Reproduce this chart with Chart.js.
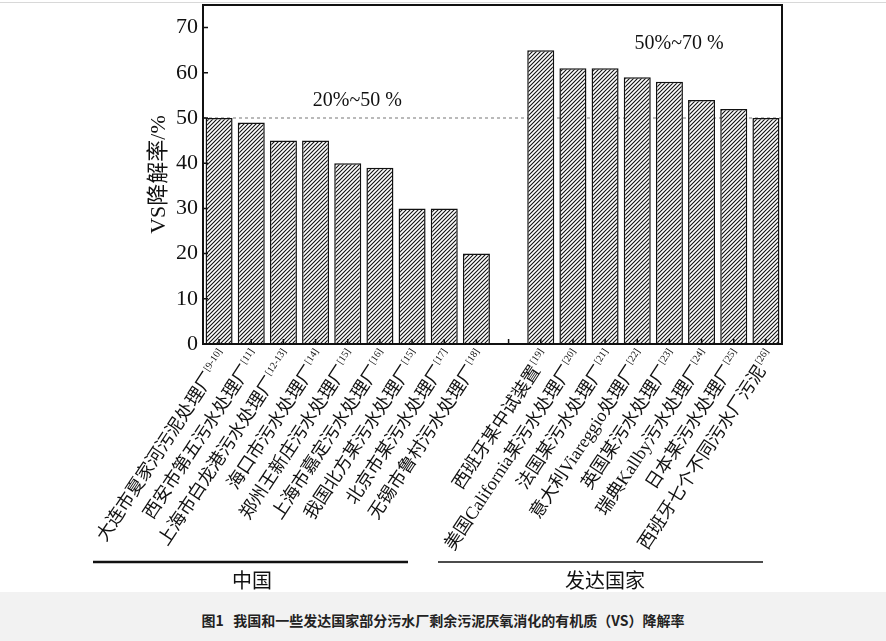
<!DOCTYPE html>
<html>
<head>
<meta charset="utf-8">
<script src="https://cdn.jsdelivr.net/npm/chart.js@4"></script>
<style>
  body { margin: 0; background: #fff; width: 886px; height: 641px; overflow: hidden; position: relative; }
  #topline { position: absolute; left: 0; top: 2px; width: 886px; border-top: 1px solid #d8d8d8; }
  #chart { position: absolute; left: 0; top: 0; }
  #caption {
    position: absolute; left: 0; top: 592px; width: 886px; height: 49px;
    background: #f2f2f2; text-align: center;
    font: bold 14px "Noto Sans CJK SC", sans-serif; color: #222;
    line-height: 56px;
  }
</style>
</head>
<body>
<div id="topline"></div>
<canvas id="chart" width="886" height="592"></canvas>
<div id="caption">图1&nbsp;&nbsp; 我国和一些发达国家部分污水厂剩余污泥厌氧消化的有机质（VS）降解率</div>
<script>
const chinaNames = ['大连市夏家河污泥处理厂', '西安市第五污水处理厂', '上海市白龙港污水处理厂', '海口市污水处理厂',
    '郑州王新庄污水处理厂', '上海市嘉定污水处理厂', '我国北方某污水处理厂', '北京市某污水处理厂', '无锡市鲁村污水处理厂'];
const chinaRefs = ['[9-10]', '[11]', '[12-13]', '[14]', '[15]', '[16]', '[15]', '[17]', '[18]'];
const chinaVals = [50, 49, 45, 45, 40, 39, 30, 30, 20];

const devNames = ['西班牙某中试装置', '美国California某污水处理厂', '法国某污水处理厂', '意大利Viareggio处理厂',
    '英国某污水处理厂', '瑞典Kallby污水处理厂', '日本某污水处理厂', '西班牙七个不同污水厂污泥'];
const devRefs = ['[19]', '[20]', '[21]', '[22]', '[23]', '[24]', '[25]', '[26]'];
const devVals = [65, 61, 61, 59, 58, 54, 52, 50];

const yTicks = [0, 10, 20, 30, 40, 50, 60, 70];
const refLine = 50;
const rangeTexts = ['20%~50 %', '50%~70 %'];
const groupNames = ['中国', '发达国家'];

// one empty slot between the two groups
const labels = [...chinaNames, '', ...devNames];
const refs = [...chinaRefs, '', ...devRefs];
const values = [...chinaVals, null, ...devVals];

const serif = '"Liberation Serif", "Noto Sans CJK SC", serif';
const cjk = '"Noto Sans CJK SC", sans-serif';

// diagonal hatch fill
function hatch() {
    const c = document.createElement('canvas');
    c.width = 4; c.height = 4;
    const g = c.getContext('2d');
    g.fillStyle = '#fff';
    g.fillRect(0, 0, 4, 4);
    g.strokeStyle = '#111';
    g.lineWidth = 1.1;
    g.beginPath();
    g.moveTo(-1, 5); g.lineTo(5, -1);
    g.moveTo(-1, 1); g.lineTo(1, -1);
    g.moveTo(3, 5); g.lineTo(5, 3);
    g.stroke();
    return g.createPattern(c, 'repeat');
}

const decor = {
    id: 'decor',
    beforeDatasetsDraw(chart) {
        const {ctx, chartArea: a, scales: {y}} = chart;
        const py = y.getPixelForValue(refLine);
        ctx.save();
        ctx.strokeStyle = '#777';
        ctx.lineWidth = 1;
        ctx.setLineDash([3, 3]);
        ctx.beginPath();
        ctx.moveTo(a.left, py);
        ctx.lineTo(a.right, py);
        ctx.stroke();
        ctx.restore();
    },
    afterDraw(chart) {
        const {ctx, chartArea: a, scales: {x, y}} = chart;
        ctx.save();
        // frame
        ctx.strokeStyle = '#111';
        ctx.lineWidth = 2;
        ctx.strokeRect(a.left, a.top, a.right - a.left, a.bottom - a.top);
        // inward ticks
        ctx.lineWidth = 1.5;
        ctx.beginPath();
        yTicks.forEach(v => {
            const py = y.getPixelForValue(v);
            ctx.moveTo(a.left, py); ctx.lineTo(a.left + 5, py);
        });
        labels.forEach((l, i) => {
            const px = x.getPixelForValue(i);
            ctx.moveTo(px, a.bottom); ctx.lineTo(px, a.bottom - 5);
        });
        ctx.stroke();

        // rotated category labels with superscript refs
        const ang = -56.6 * Math.PI / 180;
        labels.forEach((l, i) => {
            if (!l) return;
            const px = x.getPixelForValue(i) + 6;
            const py = a.bottom + 9;
            ctx.save();
            ctx.translate(px, py);
            ctx.rotate(ang);
            ctx.fillStyle = '#111';
            ctx.textBaseline = 'middle';
            ctx.textAlign = 'left';
            ctx.font = '10px ' + serif;
            const sw = ctx.measureText(refs[i]).width;
            ctx.font = '18px ' + serif;
            const mw = ctx.measureText(l).width;
            ctx.fillText(l, -(mw + sw + 1), 0);
            ctx.font = '10px ' + serif;
            ctx.fillText(refs[i], -sw, -6);
            ctx.restore();
        });

        // range notes
        ctx.fillStyle = '#111';
        ctx.font = '20px ' + serif;
        ctx.textAlign = 'center';
        ctx.textBaseline = 'middle';
        ctx.fillText(rangeTexts[0], x.getPixelForValue(4.3), y.getPixelForValue(53.9));
        ctx.fillText(rangeTexts[1], x.getPixelForValue(14.3), y.getPixelForValue(66.4));

        // group brackets
        ctx.strokeStyle = '#111';
        ctx.lineWidth = 2.5;
        ctx.beginPath();
        ctx.moveTo(93, 562); ctx.lineTo(408, 562);
        ctx.stroke();
        ctx.lineWidth = 1.3;
        ctx.beginPath();
        ctx.moveTo(438, 562); ctx.lineTo(763, 562);
        ctx.stroke();
        ctx.font = '20px ' + cjk;
        ctx.fillText(groupNames[0], 252, 580);
        ctx.fillText(groupNames[1], 605, 580);
        ctx.restore();
    }
};

new Chart(document.getElementById('chart'), {
    type: 'bar',
    data: {
        labels: labels,
        datasets: [{
            data: values,
            backgroundColor: hatch(),
            borderColor: '#111',
            borderWidth: 1.5,
            barPercentage: 0.84,
            categoryPercentage: 1
        }]
    },
    options: {
        responsive: false,
        animation: false,
        devicePixelRatio: 1,
        layout: { padding: { left: 140, top: 5, right: 104, bottom: 0 } },
        plugins: { legend: { display: false }, tooltip: { enabled: false } },
        scales: {
            x: {
                grid: { display: false },
                border: { display: false },
                ticks: { display: false },
                afterFit: s => { s.height = 248; }
            },
            y: {
                min: 0,
                max: 75,
                grid: { display: false, drawTicks: false },
                border: { display: false },
                afterBuildTicks: s => { s.ticks = yTicks.map(v => ({value: v})); },
                ticks: {
                    padding: 5,
                    color: '#111',
                    font: { family: serif, size: 22 }
                },
                title: {
                    display: true,
                    text: 'VS降解率/%',
                    color: '#111',
                    font: { family: serif, size: 22 },
                    padding: { top: 6, bottom: 4 }
                },
                afterFit: s => { s.width = 63; s.paddingTop = 0; s.paddingBottom = 0; }
            }
        }
    },
    plugins: [decor]
});
</script>
</body>
</html>
